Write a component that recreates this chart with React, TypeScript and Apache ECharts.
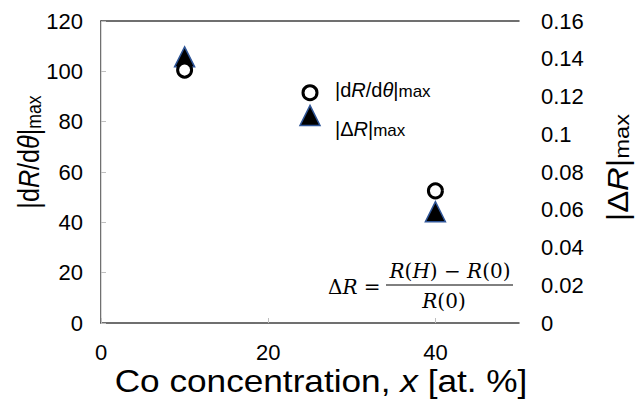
import React, { useEffect, useRef } from "react";
import * as echarts from "echarts";

const xTicks = [0, 20, 40];
const concentration = [10, 25, 40];
const dRdThetaMax = [100.5, 91.5, 52.5];
const deltaRMax = [0.141, 0.11, 0.059];

const FONT = "Liberation Sans, Arial, sans-serif";
const SERIF = "DejaVu Serif, serif";

export default function App() {
  const ref = useRef<HTMLDivElement>(null);
  useEffect(() => {
    if (!ref.current) return;
    const chart = echarts.init(ref.current, undefined, { renderer: "svg" });
    const tickStyle = { show: true, inside: true, length: 5, lineStyle: { color: "#bfbfbf", width: 1 } };
    const labelStyle = { color: "#000", fontSize: 22, fontFamily: FONT };
    const sub = (size: number, lh: number) => ({ fontSize: size, fontFamily: FONT, color: "#000", lineHeight: lh, verticalAlign: "bottom" as const });
    const main = (size: number, lh: number, italic = false) => ({
      fontSize: size, fontFamily: FONT, color: "#000", lineHeight: lh, verticalAlign: "bottom" as const, fontStyle: italic ? "italic" : "normal",
    });
    const serif = (italic: boolean) => ({ fontSize: 20, fontFamily: SERIF, color: "#000", fontStyle: italic ? "italic" : "normal" });
    chart.setOption({
      animation: false,
      backgroundColor: "#fff",
      grid: { left: 101, right: 123, top: 21, bottom: 80 },
      xAxis: [
        {
          type: "value", min: 0, max: 50, interval: 20,
          axisLine: { show: true, lineStyle: { color: "#404040", width: 1.5 } },
          axisTick: tickStyle,
          splitLine: { show: false },
          axisLabel: { ...labelStyle, margin: 18, showMaxLabel: false, formatter: (v: number) => (xTicks.includes(v) ? String(v) : "") },
        },
        {
          type: "value", min: 0, max: 50, position: "top",
          axisLine: { show: true, onZero: false, lineStyle: { color: "#404040", width: 1.5 } },
          axisTick: { show: false }, axisLabel: { show: false }, splitLine: { show: false },
        },
      ],
      yAxis: [
        {
          type: "value", min: 0, max: 120, interval: 20,
          axisLine: { show: true, lineStyle: { color: "#404040", width: 1.5 } },
          axisTick: tickStyle,
          splitLine: { show: false },
          axisLabel: { ...labelStyle, margin: 18 },
        },
        {
          type: "value", min: 0, max: 0.16, interval: 0.02, position: "right",
          axisLine: { show: true, lineStyle: { color: "#d9d9d9", width: 1 } },
          axisTick: { show: false },
          splitLine: { show: false },
          axisLabel: { ...labelStyle, margin: 22 },
        },
      ],
      series: [
        {
          type: "scatter", yAxisIndex: 1, symbol: "triangle", symbolSize: [20, 20],
          itemStyle: { color: "#000", borderColor: "#2f5597", borderWidth: 1.5, opacity: 1 },
          data: concentration.map((x, i) => [x, deltaRMax[i]]), z: 2,
        },
        {
          type: "scatter", yAxisIndex: 0, symbol: "circle", symbolSize: 14,
          itemStyle: { color: "#fff", borderColor: "#000", borderWidth: 3, opacity: 1 },
          data: concentration.map((x, i) => [x, dRdThetaMax[i]]), z: 3,
        },
      ],
      graphic: [
        {
          type: "text", x: 321, y: 381, scaleX: 1.1,
          style: { text: "Co concentration, {i|x} [at. %]", fontSize: 32, fontFamily: FONT, fill: "#000", align: "center", verticalAlign: "middle",
            rich: { i: { fontSize: 32, fontFamily: FONT, fontStyle: "italic", color: "#000" } } },
        },
        {
          type: "text", x: 27, y: 152, rotation: Math.PI / 2, scaleX: 0.84,
          style: {
            text: "{a||d}{b|R}{a|/d}{b|θ}{a||}{s|max}", align: "center", verticalAlign: "middle",
            rich: { a: main(30, 34), b: main(30, 34, true), s: sub(21, 25) },
          },
        },
        {
          type: "text", x: 616, y: 167.6, rotation: Math.PI / 2, scaleX: 1.13,
          style: {
            text: "{a||Δ}{b|R}{a||}{s|max}", align: "center", verticalAlign: "middle",
            rich: { a: main(29, 33), b: main(29, 33, true), s: sub(21, 25) },
          },
        },
        {
          type: "text", x: 335, y: 88,
          style: {
            text: "{a||d}{b|R}{a|/d}{b|θ}{a||}{s|max}", align: "left", verticalAlign: "middle",
            rich: { a: main(20, 24), b: main(20, 24, true), s: sub(17, 20) },
          },
        },
        {
          type: "text", x: 335, y: 127,
          style: {
            text: "{a||Δ}{b|R}{a||}{s|max}", align: "left", verticalAlign: "middle",
            rich: { a: main(20, 24), b: main(20, 24, true), s: sub(17, 20) },
          },
        },
        {
          type: "text", x: 328, y: 287,
          style: { text: "{u|Δ}{i|R}{u| = }", align: "left", verticalAlign: "middle", rich: { u: serif(false), i: serif(true) } },
        },
        {
          type: "text", x: 450, y: 271,
          style: { text: "{i|R}{u|(}{i|H}{u|) − }{i|R}{u|(0)}", align: "center", verticalAlign: "middle", rich: { u: serif(false), i: serif(true) } },
        },
        { type: "line", shape: { x1: 386, y1: 285, x2: 513, y2: 285 }, style: { stroke: "#000", lineWidth: 1 } },
        {
          type: "text", x: 444, y: 301,
          style: { text: "{i|R}{u|(0)}", align: "center", verticalAlign: "middle", rich: { u: serif(false), i: serif(true) } },
        },
      ],
    });
    return () => chart.dispose();
  }, []);
  return <div ref={ref} style={{ width: 642, height: 403, position: "absolute", left: 0, top: 0 }} />;
}
